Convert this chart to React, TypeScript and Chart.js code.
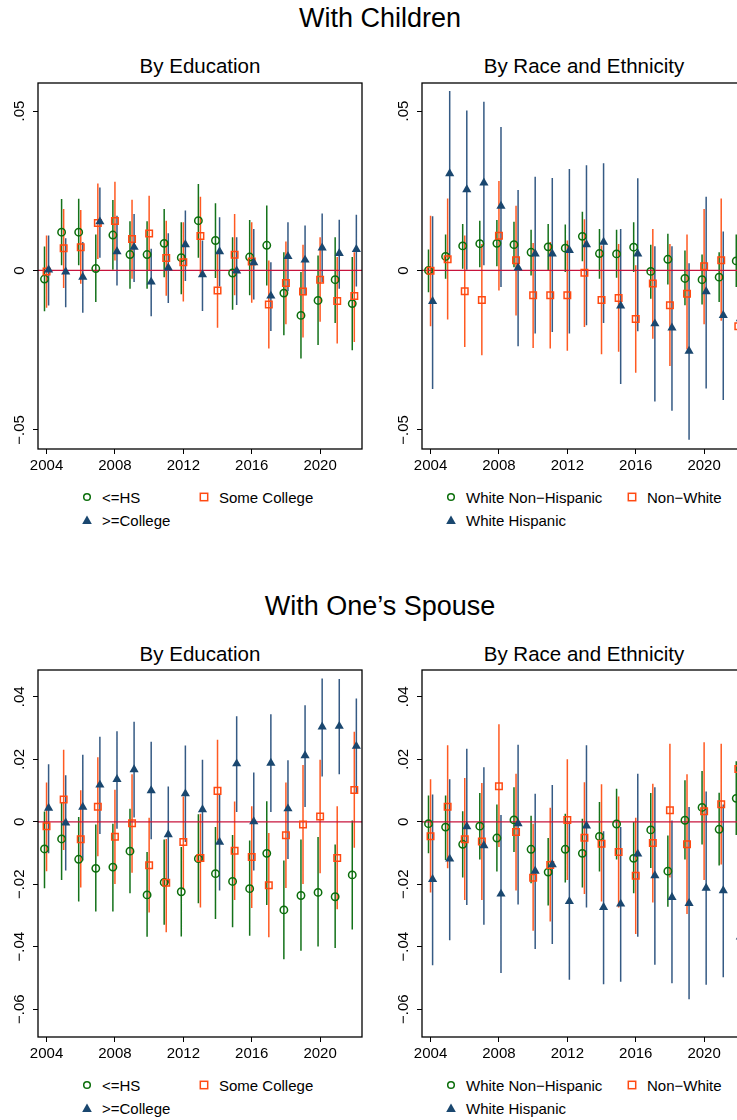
import React, { useEffect, useRef } from 'react';
import { Chart, registerables } from 'chart.js';

Chart.register(...registerables);

// years on the x axis
const years = [2004, 2005, 2006, 2007, 2008, 2009, 2010, 2011, 2012, 2013, 2014, 2015, 2016, 2017, 2018, 2019, 2020, 2021, 2022];
const xTicks = [2004, 2008, 2012, 2016, 2020];
const yTicksChildren = [-0.05, 0, 0.05];
const yTicksSpouse = [-0.06, -0.04, -0.02, 0, 0.02, 0.04];

// ---- With Children, by education
const chEduHsEst = [-0.0027, 0.012, 0.012, 0.0006, 0.0111, 0.005, 0.005, 0.0085, 0.004, 0.0156, 0.0094, -0.0008, 0.0042, 0.0079, -0.0071, -0.0141, -0.0094, -0.0029, -0.0104];
const chEduHsHi = [0.0075, 0.0224, 0.0225, 0.0113, 0.0221, 0.0154, 0.0154, 0.0193, 0.0151, 0.0271, 0.0211, 0.0104, 0.0158, 0.0204, 0.0057, -0.0005, 0.0047, 0.0104, 0.0042];
const chEduHsLo = [-0.0128, 0.0016, 0.0016, -0.0099, 0.0002, -0.0057, -0.0057, -0.0021, -0.0075, 0.004, -0.0024, -0.0123, -0.0078, -0.0047, -0.0203, -0.0276, -0.0234, -0.0165, -0.025];
const chEduScEst = [-0.0003, 0.007, 0.0073, 0.0149, 0.0155, 0.0099, 0.0116, 0.0039, 0.0026, 0.0108, -0.0063, 0.0049, 0.0028, -0.0107, -0.0039, -0.0066, -0.0029, -0.0096, -0.008];
const chEduScHi = [0.011, 0.0193, 0.019, 0.0273, 0.0278, 0.0222, 0.0234, 0.0156, 0.0151, 0.0231, 0.0057, 0.0177, 0.0151, 0.0031, 0.0091, 0.0081, 0.0104, 0.0042, 0.0057];
const chEduScLo = [-0.0117, -0.0055, -0.0042, 0.0036, 0.0031, -0.0026, 0.0, -0.0079, -0.0097, -0.001, -0.018, -0.0078, -0.0101, -0.0245, -0.0169, -0.021, -0.0161, -0.0229, -0.0224];
const chEduColEst = [0.0002, -0.0004, -0.0021, 0.0153, 0.0059, 0.0073, -0.0036, 0.0008, 0.0081, -0.0013, 0.0059, -0.0001, 0.0025, -0.008, 0.0044, 0.0033, 0.0071, 0.0054, 0.0066];
const chEduColHi = [0.011, 0.0101, 0.0089, 0.026, 0.0172, 0.0177, 0.0068, 0.0117, 0.0188, 0.0094, 0.0167, 0.0104, 0.013, 0.0026, 0.0151, 0.0141, 0.0179, 0.0159, 0.0175];
const chEduColLo = [-0.011, -0.0115, -0.0133, 0.004, -0.0047, -0.0036, -0.0144, -0.0102, -0.0033, -0.0127, -0.005, -0.0108, -0.0091, -0.019, -0.0065, -0.0078, -0.0036, -0.0057, -0.005];

// ---- With Children, by race and ethnicity
const chRaceWnhEst = [0, 0.0044, 0.0077, 0.0084, 0.0085, 0.0081, 0.0057, 0.0074, 0.007, 0.0107, 0.0053, 0.0052, 0.0073, -0.0003, 0.0035, -0.0025, -0.0029, -0.0021, 0.003];
const chRaceWnhHi = [0.0066, 0.0113, 0.0146, 0.0156, 0.0158, 0.0153, 0.0128, 0.0146, 0.0144, 0.0184, 0.013, 0.0128, 0.0151, 0.0081, 0.0115, 0.0063, 0.005, 0.0057, 0.0113];
const chRaceWnhLo = [-0.0068, -0.0026, 0.0005, 0.001, 0.0013, 0.001, -0.0016, 0, -0.0005, 0.0029, -0.0026, -0.0023, -0.0005, -0.0089, -0.0044, -0.0109, -0.0107, -0.0099, -0.0052];
const chRaceNwEst = [-0.0001, 0.0035, -0.0065, -0.0093, 0.0109, 0.0032, -0.0078, -0.0078, -0.0078, -0.0007, -0.0093, -0.0086, -0.0152, -0.0041, -0.0109, -0.0073, 0.0013, 0.0032, -0.0175];
const chRaceNwHi = [0.0172, 0.0226, 0.011, 0.0083, 0.0281, 0.0203, 0.0086, 0.0089, 0.0094, 0.0161, 0.0078, 0.0083, 0.0016, 0.013, 0.0083, 0.0113, 0.0193, 0.0226, 0.0005];
const chRaceNwLo = [-0.0175, -0.0154, -0.024, -0.0266, -0.0063, -0.0141, -0.0243, -0.0245, -0.0252, -0.0177, -0.0263, -0.0255, -0.0321, -0.0214, -0.03, -0.0248, -0.0169, -0.0158, -0.036];
const chRaceWhEst = [-0.0097, 0.0304, 0.0254, 0.0275, 0.0202, 0.0008, 0.0052, 0.0052, 0.0063, 0.0081, 0.0089, -0.0111, 0.0052, -0.0167, -0.018, -0.0253, -0.0066, -0.0141, -0.0151];
const chRaceWhHi = [0.017, 0.0563, 0.0502, 0.0529, 0.045, 0.0252, 0.0294, 0.029, 0.0318, 0.033, 0.0336, 0.013, 0.0289, 0.0076, 0.0076, 0.0023, 0.0231, 0.0122, 0.0105];
const chRaceWhLo = [-0.0372, 0.0047, 0.0002, 0.0016, -0.0052, -0.0238, -0.0198, -0.0193, -0.0198, -0.0172, -0.0165, -0.0356, -0.0191, -0.0411, -0.044, -0.0531, -0.037, -0.0406, -0.041];

// ---- With One's Spouse, by education
const spEduHsEst = [-0.0087, -0.0055, -0.012, -0.0149, -0.0145, -0.0094, -0.0234, -0.0194, -0.0224, -0.0118, -0.0166, -0.0191, -0.0214, -0.0101, -0.0282, -0.0236, -0.0226, -0.024, -0.017];
const spEduHsHi = [0.0033, 0.0063, 0.0015, -0.0009, -0.0006, 0.0042, -0.0097, -0.0057, -0.0081, 0.0024, -0.0017, -0.0042, -0.006, 0.0066, -0.0124, -0.0057, -0.0049, -0.0073, 0.0004];
const spEduHsLo = [-0.0213, -0.0186, -0.0255, -0.0287, -0.0287, -0.0229, -0.0368, -0.033, -0.0367, -0.0261, -0.0311, -0.0338, -0.0365, -0.0266, -0.044, -0.0413, -0.0399, -0.0404, -0.0345];
const spEduScEst = [-0.0014, 0.0071, -0.0056, 0.0048, -0.0048, -0.0005, -0.0139, -0.0195, -0.0065, -0.0116, 0.0099, -0.0093, -0.0113, -0.0203, -0.0043, -0.0009, 0.0017, -0.0116, 0.0102];
const spEduScHi = [0.0126, 0.0231, 0.0101, 0.0207, 0.0103, 0.0152, 0.0013, -0.0055, 0.0081, 0.0026, 0.0263, 0.0065, 0.005, -0.0036, 0.0126, 0.0182, 0.0199, 0.005, 0.0288];
const spEduScLo = [-0.0158, -0.009, -0.021, -0.011, -0.0199, -0.0163, -0.029, -0.0354, -0.0218, -0.0274, -0.006, -0.025, -0.0276, -0.037, -0.0212, -0.0199, -0.0165, -0.028, -0.0083];
const spEduColEst = [0.0044, -0.0003, 0.0047, 0.0118, 0.0136, 0.0167, 0.01, -0.0041, 0.009, 0.0039, -0.0065, 0.0186, 0.0001, 0.0188, 0.0042, 0.0212, 0.0304, 0.0306, 0.0242];
const spEduColHi = [0.0184, 0.0149, 0.0215, 0.0272, 0.029, 0.032, 0.0256, 0.0113, 0.0244, 0.0199, 0.009, 0.0338, 0.0158, 0.0344, 0.0197, 0.0373, 0.0459, 0.0457, 0.0395];
const spEduColLo = [-0.0101, -0.0156, -0.0124, -0.0039, -0.0022, 0.0014, -0.0056, -0.0197, -0.0065, -0.0124, -0.022, 0.0031, -0.0156, 0.0031, -0.0119, 0.0047, 0.0145, 0.0152, 0.009];

// ---- With One's Spouse, by race and ethnicity
const spRaceWnhEst = [-0.0006, -0.0017, -0.0072, -0.0014, -0.0052, 0.0006, -0.0088, -0.0161, -0.0088, -0.0101, -0.0047, -0.0007, -0.0117, -0.0026, -0.0158, 0.0005, 0.0046, -0.0024, 0.0075];
const spRaceWnhHi = [0.0084, 0.0084, 0.0034, 0.0092, 0.0055, 0.0111, 0.0019, -0.0052, 0.0026, 0.001, 0.0063, 0.0106, -0.0001, 0.0092, -0.0044, 0.0133, 0.0163, 0.0093, 0.0194];
const spRaceWnhLo = [-0.0101, -0.0122, -0.0178, -0.0121, -0.0159, -0.0097, -0.0197, -0.0268, -0.0194, -0.021, -0.0159, -0.0121, -0.0229, -0.0148, -0.0272, -0.0121, -0.0073, -0.014, -0.0042];
const spRaceNwEst = [-0.0046, 0.0048, -0.0056, -0.0063, 0.0114, -0.0033, -0.0179, -0.0138, 0.0006, -0.0051, -0.007, -0.0097, -0.0173, -0.0068, 0.0037, -0.0072, 0.0034, 0.0056, 0.0169];
const spRaceNwHi = [0.0136, 0.0245, 0.014, 0.0124, 0.0312, 0.0154, -0.0006, 0.0045, 0.02, 0.0127, 0.012, 0.0081, 0.0013, 0.0122, 0.025, 0.0152, 0.0255, 0.025, 0.0345];
const spRaceNwLo = [-0.0226, -0.0149, -0.025, -0.025, -0.0081, -0.022, -0.0349, -0.0319, -0.0186, -0.0231, -0.0255, -0.0274, -0.0359, -0.0258, -0.0178, -0.0295, -0.0186, -0.0137, -0.0005];
const spRaceWhEst = [-0.0184, -0.0119, -0.0015, -0.0076, -0.0231, -0.0006, -0.0158, -0.0137, -0.0255, -0.0013, -0.0274, -0.0263, -0.0103, -0.0172, -0.0242, -0.0261, -0.0212, -0.022, -0.0368];
const spRaceWhHi = [0.0087, 0.0136, 0.0234, 0.0175, 0.0022, 0.0247, 0.009, 0.0118, 0.0001, 0.0245, -0.003, -0.0017, 0.0154, 0.0111, 0.0004, 0.0047, 0.0097, 0.0055, -0.01];
const spRaceWhLo = [-0.0459, -0.0379, -0.0266, -0.033, -0.0484, -0.0265, -0.0407, -0.0391, -0.0506, -0.0274, -0.052, -0.0512, -0.0368, -0.0458, -0.0517, -0.0568, -0.0522, -0.0498, -0.063];

const FONT = '"Liberation Sans", Arial, Helvetica, sans-serif';
const GREEN = '#0b6e0b';
const ORANGE = '#ff4a12';
const NAVY = '#1a476f';
const GREEN_CI = '#14721a';
const ORANGE_CI = '#ff5a22';
const NAVY_CI = '#355a84';
const ZERO_RED = '#c8143c';

const X_MIN = 2003.5;
const X_MAX = 2022.45;
const OFFSETS = [-0.12, 0, 0.12];

type Series = { est: number[]; lo: number[]; hi: number[] };

const fmtTick = (v: number) => {
    if (Math.abs(v) < 1e-9) return '0';
    return (v < 0 ? '\u2212' : '') + Math.abs(v).toFixed(2).replace(/^0/, '');
};

// plot region outline (Stata draws a full box)
const framePlugin = {
    id: 'frame',
    afterDraw(chart: any) {
        const { ctx, chartArea } = chart;
        ctx.save();
        ctx.strokeStyle = '#000';
        ctx.lineWidth = 1.3;
        ctx.strokeRect(chartArea.left, chartArea.top, chartArea.right - chartArea.left, chartArea.bottom - chartArea.top);
        ctx.restore();
    },
};

interface PanelProps {
    series: Series[];
    yMin: number;
    yMax: number;
    yTicks: number[];
    left: number;
    top: number;
    height: number;
}

const Panel: React.FC<PanelProps> = ({ series, yMin, yMax, yTicks, left, top, height }) => {
    const canvasRef = useRef<HTMLCanvasElement>(null);

    useEffect(() => {
        if (!canvasRef.current) return;
        const ciColors = [GREEN_CI, ORANGE_CI, NAVY_CI];
        const colors = [GREEN, ORANGE, NAVY];
        const styles = ['circle', 'rect', 'triangle'];
        const radii = [3.7, 4.6, 5.3];

        // confidence intervals: one segment per year, gaps between them
        const ciSets = series.map((s, i) => ({
            type: 'scatter',
            data: years.flatMap((yr, k) => [
                { x: yr + OFFSETS[i], y: s.lo[k] },
                { x: yr + OFFSETS[i], y: s.hi[k] },
                { x: yr + OFFSETS[i], y: null },
            ]),
            showLine: true,
            spanGaps: false,
            borderColor: ciColors[i],
            borderWidth: 1.5,
            pointRadius: 0,
            order: 10 - i,
        }));

        const zeroSet = {
            type: 'scatter',
            data: [{ x: X_MIN, y: 0 }, { x: X_MAX, y: 0 }],
            showLine: true,
            borderColor: ZERO_RED,
            borderWidth: 1.3,
            pointRadius: 0,
            order: 5,
        };

        const markerSets = series.map((s, i) => ({
            type: 'scatter',
            data: years.map((yr, k) => ({ x: yr + OFFSETS[i], y: s.est[k] })),
            showLine: false,
            pointStyle: styles[i],
            pointRadius: radii[i],
            pointBorderWidth: styles[i] === 'triangle' ? 0 : 1.5,
            pointBorderColor: colors[i],
            pointBackgroundColor: styles[i] === 'triangle' ? colors[i] : 'rgba(0,0,0,0)',
            order: 3 - i,
        }));

        const chart = new Chart(canvasRef.current, {
            type: 'scatter',
            data: { datasets: [...ciSets, zeroSet, ...markerSets] as any },
            plugins: [framePlugin],
            options: {
                animation: false,
                responsive: false,
                events: [],
                layout: { padding: { top: 6, right: 8, left: 0, bottom: 0 } },
                plugins: { legend: { display: false }, tooltip: { enabled: false }, title: { display: false } },
                scales: {
                    x: {
                        type: 'linear',
                        min: X_MIN,
                        max: X_MAX,
                        afterBuildTicks: (scale: any) => { scale.ticks = xTicks.map((v) => ({ value: v })); },
                        afterFit: (scale: any) => { scale.height = 27; },
                        grid: { drawOnChartArea: false, drawTicks: true, tickLength: 5, color: '#000', lineWidth: 1 },
                        border: { display: false },
                        ticks: {
                            color: '#000',
                            font: { family: FONT, size: 15 },
                            padding: 3,
                            maxRotation: 0,
                            autoSkip: false,
                            callback: (v: any) => String(v),
                        },
                    },
                    y: {
                        type: 'linear',
                        min: yMin,
                        max: yMax,
                        afterBuildTicks: (scale: any) => { scale.ticks = yTicks.map((v) => ({ value: v })); },
                        afterFit: (scale: any) => { scale.width = 38; },
                        grid: { drawOnChartArea: false, drawTicks: true, tickLength: 5, color: '#000', lineWidth: 1 },
                        border: { display: false },
                        ticks: {
                            color: '#000',
                            font: { family: FONT, size: 15 },
                            minRotation: 90,
                            maxRotation: 90,
                            crossAlign: 'center',
                            padding: -2,
                            autoSkip: false,
                            callback: (v: any) => fmtTick(Number(v)),
                        },
                    },
                },
            } as any,
        });

        return () => {
            chart.destroy();
        };
    }, [series, yMin, yMax, yTicks]);

    return (
        <canvas
            ref={canvasRef}
            width={370}
            height={height}
            style={{ position: 'absolute', left, top, width: 370, height }}
        />
    );
};

const Marker: React.FC<{ kind: string; x: number; y: number }> = ({ kind, x, y }) => (
    <svg width={12} height={12} style={{ position: 'absolute', left: x - 6, top: y - 6 }}>
        {kind === 'circle' && <circle cx={6} cy={6} r={3.3} fill="none" stroke={GREEN} strokeWidth={1.5} />}
        {kind === 'square' && <rect x={2.3} y={2.3} width={7.4} height={7.4} fill="none" stroke={ORANGE} strokeWidth={1.5} />}
        {kind === 'triangle' && <polygon points="6,1.6 10.8,10 1.2,10" fill={NAVY} />}
    </svg>
);

const LegendItem: React.FC<{ kind: string; mx: number; cy: number; label: string }> = ({ kind, mx, cy, label }) => (
    <>
        <Marker kind={kind} x={mx} y={cy} />
        <div style={{ position: 'absolute', left: mx + 15, top: cy - 7.5, fontSize: 15, lineHeight: '15px', whiteSpace: 'nowrap' }}>
            {label}
        </div>
    </>
);

const Title: React.FC<{ text: string; cx: number; top: number; size: number }> = ({ text, cx, top, size }) => (
    <div
        style={{
            position: 'absolute',
            left: cx - 250,
            width: 500,
            top,
            textAlign: 'center',
            fontSize: size,
            lineHeight: `${size}px`,
            whiteSpace: 'nowrap',
        }}
    >
        {text}
    </div>
);

const chEdu: Series[] = [
    { est: chEduHsEst, lo: chEduHsLo, hi: chEduHsHi },
    { est: chEduScEst, lo: chEduScLo, hi: chEduScHi },
    { est: chEduColEst, lo: chEduColLo, hi: chEduColHi },
];
const chRace: Series[] = [
    { est: chRaceWnhEst, lo: chRaceWnhLo, hi: chRaceWnhHi },
    { est: chRaceNwEst, lo: chRaceNwLo, hi: chRaceNwHi },
    { est: chRaceWhEst, lo: chRaceWhLo, hi: chRaceWhHi },
];
const spEdu: Series[] = [
    { est: spEduHsEst, lo: spEduHsLo, hi: spEduHsHi },
    { est: spEduScEst, lo: spEduScLo, hi: spEduScHi },
    { est: spEduColEst, lo: spEduColLo, hi: spEduColHi },
];
const spRace: Series[] = [
    { est: spRaceWnhEst, lo: spRaceWnhLo, hi: spRaceWnhHi },
    { est: spRaceNwEst, lo: spRaceNwLo, hi: spRaceNwHi },
    { est: spRaceWhEst, lo: spRaceWhLo, hi: spRaceWhHi },
];

export default function App() {
    return (
        <div
            style={{
                position: 'absolute',
                left: 0,
                top: 0,
                width: 737,
                height: 1120,
                overflow: 'hidden',
                background: '#fff',
                color: '#000',
                fontFamily: FONT,
            }}
        >
            <Title text="With Children" cx={380} top={5} size={27} />
            <Title text="By Education" cx={200} top={56} size={20.5} />
            <Title text="By Race and Ethnicity" cx={584} top={56} size={20.5} />

            <Panel series={chEdu} yMin={-0.056} yMax={0.0588} yTicks={yTicksChildren} left={0} top={76} height={400} />
            <Panel series={chRace} yMin={-0.056} yMax={0.0588} yTicks={yTicksChildren} left={384} top={76} height={400} />

            <LegendItem kind="circle" mx={87} cy={497} label="<=HS" />
            <LegendItem kind="square" mx={204} cy={497} label="Some College" />
            <LegendItem kind="triangle" mx={87} cy={520} label=">=College" />
            <LegendItem kind="circle" mx={451} cy={497} label={'White Non\u2212Hispanic'} />
            <LegendItem kind="square" mx={632} cy={497} label={'Non\u2212White'} />
            <LegendItem kind="triangle" mx={451} cy={520} label="White Hispanic" />

            <Title text={'With One\u2019s Spouse'} cx={380} top={593} size={27} />
            <Title text="By Education" cx={200} top={644} size={20.5} />
            <Title text="By Race and Ethnicity" cx={584} top={644} size={20.5} />

            <Panel series={spEdu} yMin={-0.0689} yMax={0.0486} yTicks={yTicksSpouse} left={0} top={663} height={401} />
            <Panel series={spRace} yMin={-0.0689} yMax={0.0486} yTicks={yTicksSpouse} left={384} top={663} height={401} />

            <LegendItem kind="circle" mx={87} cy={1085} label="<=HS" />
            <LegendItem kind="square" mx={204} cy={1085} label="Some College" />
            <LegendItem kind="triangle" mx={87} cy={1108} label=">=College" />
            <LegendItem kind="circle" mx={451} cy={1085} label={'White Non\u2212Hispanic'} />
            <LegendItem kind="square" mx={632} cy={1085} label={'Non\u2212White'} />
            <LegendItem kind="triangle" mx={451} cy={1108} label="White Hispanic" />
        </div>
    );
}
